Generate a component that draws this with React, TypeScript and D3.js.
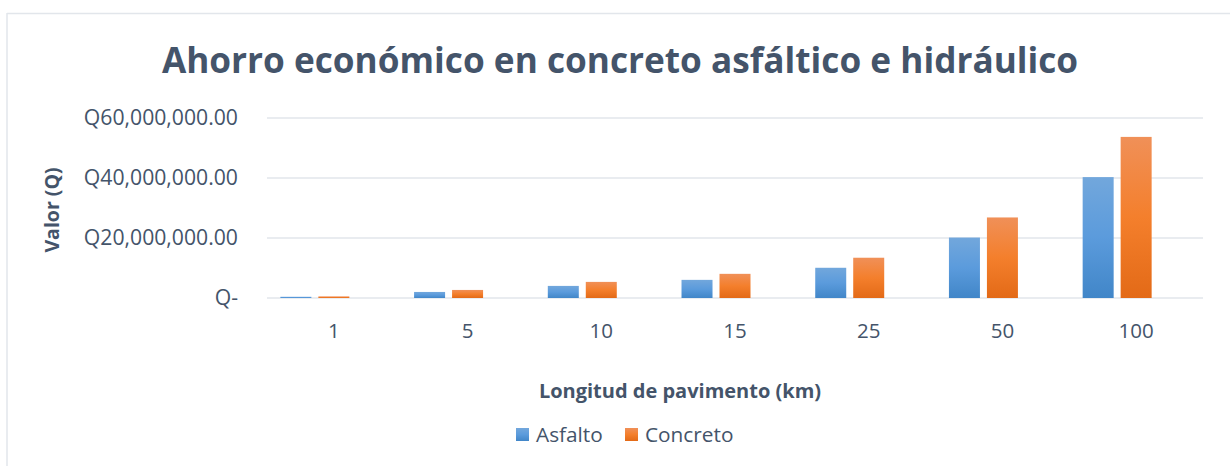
import React from "react";
import * as d3 from "d3";

const categories = ["1", "5", "10", "15", "25", "50", "100"];
const asfalto = [403000, 2015000, 4030000, 6045000, 10075000, 20150000, 40300000];
const concreto = [537000, 2685000, 5370000, 8055000, 13425000, 26850000, 53700000];
const yTicks = [0, 20000000, 40000000, 60000000];
const seriesNames = ["Asfalto", "Concreto", ""];

const W = 1230, H = 466;
const plot = { left: 267, right: 1203, top: 118, bottom: 298 };
const textColor = "#44546a";
const font = "'Open Sans', sans-serif";

function fmt(v: number) {
  if (v === 0) return "Q-";
  return "Q" + d3.format(",.2f")(v);
}

export default function App() {
  const x = d3.scaleBand<string>().domain(categories).range([plot.left, plot.right]).paddingInner(0.2).paddingOuter(0.1);
  const xs = d3.scaleBand<string>().domain(seriesNames.map((_, i) => String(i))).range([0, x.bandwidth()]).paddingInner(0.184);
  const y = d3.scaleLinear().domain([0, 60000000]).range([plot.bottom, plot.top]);
  const data = [asfalto, concreto];
  const fills = ["url(#gBlue)", "url(#gOrange)"];
  const cx = (c: string) => (x(c) as number) + x.bandwidth() / 2;
  return (
    <svg width={W} height={H} style={{ position: "absolute", left: 0, top: 0 }}>
      <defs>
        <linearGradient id="gBlue" x1="0" y1="0" x2="0" y2="1">
          <stop offset="0" stopColor="#72a7dc" />
          <stop offset="0.5" stopColor="#5b9bdc" />
          <stop offset="1" stopColor="#4186c8" />
        </linearGradient>
        <linearGradient id="gOrange" x1="0" y1="0" x2="0" y2="1">
          <stop offset="0" stopColor="#f09058" />
          <stop offset="0.5" stopColor="#f47f2c" />
          <stop offset="1" stopColor="#e36a17" />
        </linearGradient>
      </defs>
      <rect x={0} y={0} width={W} height={H} fill="#fff" />
      <line x1={7} x2={W} y1={13.5} y2={13.5} stroke="#e2e6eb" strokeWidth={1.5} />
      <line x1={7} x2={7} y1={13} y2={H} stroke="#e2e6eb" strokeWidth={1.5} />
      <text x={620} y={73} textAnchor="middle" fontFamily={font} fontWeight="bold" fontSize={35.2} fill={textColor}>
        Ahorro económico en concreto asfáltico e hidráulico
      </text>
      {yTicks.map((t) => (
        <g key={t}>
          <line x1={plot.left} x2={plot.right} y1={y(t)} y2={y(t)} stroke="#e2e6eb" strokeWidth={1.5} />
          <text x={238} y={y(t) + 7} textAnchor="end" fontFamily={font} fontSize={21.2} fill={textColor}>
            {fmt(t)}
          </text>
        </g>
      ))}
      {data.map((s, si) =>
        s.map((v, i) => {
          const c = categories[i];
          const bx = (x(c) as number) + (xs(String(si)) as number);
          return <rect key={si + "-" + i} x={bx} y={y(v)} width={xs.bandwidth()} height={y(0) - y(v)} fill={fills[si]} />;
        })
      )}
      {categories.map((c) => (
        <text key={c} x={cx(c)} y={338} textAnchor="middle" fontFamily={font} fontSize={20.5} fill={textColor}>
          {c}
        </text>
      ))}
      <text transform={`translate(59,210) rotate(-90)`} textAnchor="middle" fontFamily={font} fontWeight="bold" fontSize={19.5} fill={textColor}>
        Valor (Q)
      </text>
      <text x={680} y={398} textAnchor="middle" fontFamily={font} fontWeight="bold" fontSize={20} fill={textColor}>
        Longitud de pavimento (km)
      </text>
      <rect x={516} y={428} width={13} height={13} fill="url(#gBlue)" />
      <text x={536} y={442} fontFamily={font} fontSize={20.8} fill={textColor}>Asfalto</text>
      <rect x={625} y={428} width={13} height={13} fill="url(#gOrange)" />
      <text x={645} y={442} fontFamily={font} fontSize={20.8} fill={textColor}>Concreto</text>
    </svg>
  );
}
